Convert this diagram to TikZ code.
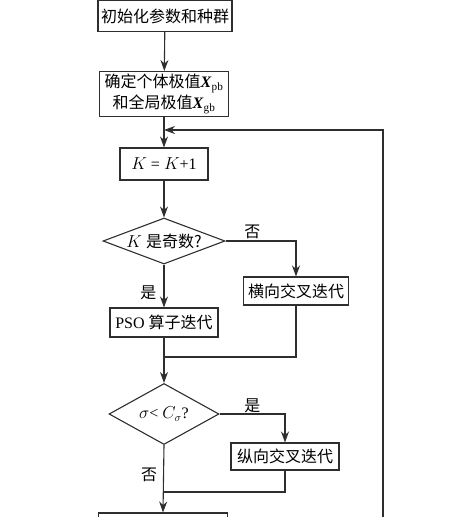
\documentclass[tikz,border=0pt]{standalone}
\usepackage{fontspec}
\setmainfont{Liberation Serif}
\newfontfamily\cjk{Noto Sans CJK SC}
\usetikzlibrary{positioning,shapes.geometric,arrows.meta}
\colorlet{ink}{black!82}
\tikzset{
  every node/.style={font=\fontsize{16}{21}\selectfont},
  % --- nodes
  blk/.style = {draw=ink, line width=1.1pt, inner sep=0pt, align=center, fill=white},
  dec/.style = {blk, diamond},
  lbl/.style = {inner sep=1pt, font=\fontsize{16}{16}\selectfont\cjk},
  % --- edges
  e/.style   = {-{Stealth[length=11pt,width=8pt]}, line width=1.1pt, draw=ink},
  ln/.style  = {line width=1.1pt, draw=ink},
}
\begin{document}
\begin{tikzpicture}[x=1pt,y=-1pt]
  \clip (0,0) rectangle (475,517);
  \node[blk, minimum width=134pt, minimum height=31pt] (init) at (165,16) {\cjk 初始化参数和种群};
  \node[blk, minimum width=129pt, minimum height=45pt] (best) at (164,94)
       {{\cjk 确定个体极值}\textbf{\textit{X}}\textsubscript{pb}\\
        {\cjk 和全局极值}\textbf{\textit{X}}\textsubscript{gb}};
  \node[blk, minimum width=88pt, minimum height=32pt] (kinc) at (164,164) {$K$ = $K$+1};
  \node[dec, aspect=2.65, minimum width=122pt, minimum height=46pt] (odd) at (164,241) {$K$ {\cjk 是奇数?}};
  \node[blk, minimum width=105pt, minimum height=28pt] (cross1) at (296,291) {\cjk 横向交叉迭代};
  \node[blk, minimum width=108pt, minimum height=29pt] (pso) at (164,322.5) {PSO {\cjk 算子迭代}};
  \node[dec, aspect=1.8, minimum width=110pt, minimum height=61pt] (test) at (164,414) {$\sigma$< $C_\sigma$?};
  \node[blk, minimum width=108pt, minimum height=27pt] (cross2) at (285,456.5) {\cjk 纵向交叉迭代};
  \node[blk, minimum width=129pt, minimum height=40pt] (final) at (163,533) {};

  \coordinate (j0) at (164,130);
  \coordinate (j1) at (164,357);
  \coordinate (j2) at (164,492);
  \coordinate (back) at (383,130);

  \draw[e] (init) -- (best);
  \draw[e] (best) -- (kinc);
  \draw[e] (final.east) -| (back) -- (j0);
  \draw[e] (kinc) -- (odd);
  \draw[e] (odd.east) -| node[lbl, above=1pt, pos=0.19] {否} (cross1);
  \draw[e] (odd.south) -- node[lbl, left=6pt, pos=0.66] {是} (pso.north);
  \draw[ln] (pso) -- (j1);
  \draw[ln] (cross1) |- (j1);
  \draw[e] (j1) -- (test);
  \draw[e] (test.east) -| node[lbl, above=0pt, pos=0.25] {是} (cross2);
  \draw[e] (test.south) -- node[lbl, left=5pt, pos=0.44] {否} (final.north);
  \draw[ln] (cross2) |- (j2);
\end{tikzpicture}
\end{document}
